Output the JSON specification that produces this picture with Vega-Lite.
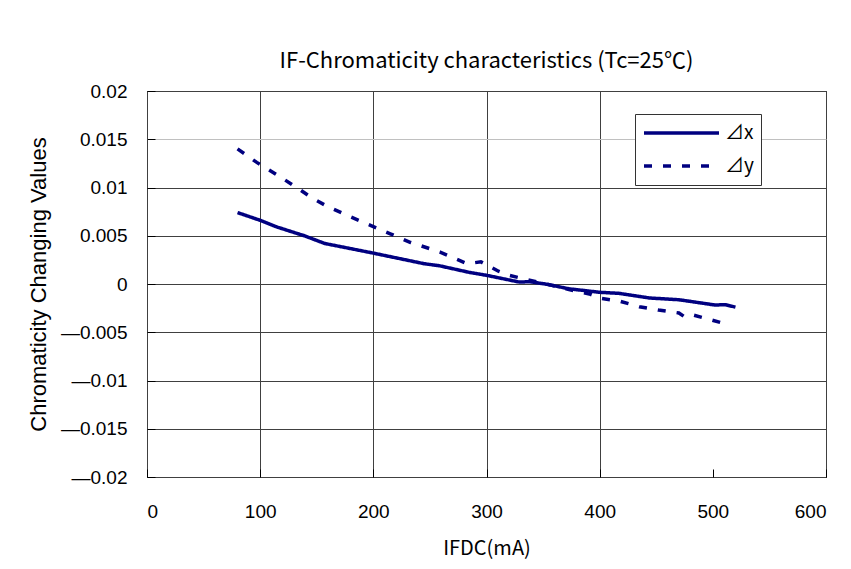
{
  "$schema": "https://vega.github.io/schema/vega-lite/v6.json",
  "width": 679,
  "height": 386,
  "autosize": "none",
  "padding": {"left": 147, "top": 91, "right": 25, "bottom": 92},
  "background": "white",
  "config": {
    "view": {"stroke": "black", "strokeWidth": 1},
    "axis": {
      "domain": false,
      "ticks": true,
      "tickColor": "black",
      "tickSize": -8,
      "gridColor": "#404040",
      "gridWidth": 1,
      "gridOpacity": 1,
      "labelColor": "black",
      "labelFont": "Liberation Sans",
      "labelFontSize": 19,
      "titleColor": "black",
      "titleFontWeight": "normal"
    }
  },
  "title": {
    "text": "IF-Chromaticity characteristics (Tc=25℃)",
    "font": "Noto Sans CJK JP",
    "fontSize": 22,
    "fontWeight": "normal",
    "color": "black",
    "anchor": "middle",
    "offset": -8,
    "baseline": "alphabetic"
  },
  "data": {
    "values": [
      {"I": 80, "v": 0.0074, "s": "⊿x"},
      {"I": 100, "v": 0.0066, "s": "⊿x"},
      {"I": 115, "v": 0.0059, "s": "⊿x"},
      {"I": 139, "v": 0.0050, "s": "⊿x"},
      {"I": 157, "v": 0.0042, "s": "⊿x"},
      {"I": 200, "v": 0.0032, "s": "⊿x"},
      {"I": 245, "v": 0.0021, "s": "⊿x"},
      {"I": 258, "v": 0.0019, "s": "⊿x"},
      {"I": 285, "v": 0.0012, "s": "⊿x"},
      {"I": 300, "v": 0.0009, "s": "⊿x"},
      {"I": 329, "v": 0.0002, "s": "⊿x"},
      {"I": 338, "v": 0.00024, "s": "⊿x"},
      {"I": 352, "v": 0.0, "s": "⊿x"},
      {"I": 373, "v": -0.0005, "s": "⊿x"},
      {"I": 400, "v": -0.00086, "s": "⊿x"},
      {"I": 417, "v": -0.00097, "s": "⊿x"},
      {"I": 444, "v": -0.00145, "s": "⊿x"},
      {"I": 470, "v": -0.00163, "s": "⊿x"},
      {"I": 502, "v": -0.00218, "s": "⊿x"},
      {"I": 511, "v": -0.00214, "s": "⊿x"},
      {"I": 520, "v": -0.0024, "s": "⊿x"},
      {"I": 80, "v": 0.0140, "s": "⊿y"},
      {"I": 97, "v": 0.0126, "s": "⊿y"},
      {"I": 115, "v": 0.0113, "s": "⊿y"},
      {"I": 131, "v": 0.0101, "s": "⊿y"},
      {"I": 146, "v": 0.0089, "s": "⊿y"},
      {"I": 160, "v": 0.0080, "s": "⊿y"},
      {"I": 179, "v": 0.0070, "s": "⊿y"},
      {"I": 197, "v": 0.0061, "s": "⊿y"},
      {"I": 215, "v": 0.0052, "s": "⊿y"},
      {"I": 233, "v": 0.0043, "s": "⊿y"},
      {"I": 241, "v": 0.0040, "s": "⊿y"},
      {"I": 259, "v": 0.0033, "s": "⊿y"},
      {"I": 283, "v": 0.0021, "s": "⊿y"},
      {"I": 295, "v": 0.0023, "s": "⊿y"},
      {"I": 311, "v": 0.0013, "s": "⊿y"},
      {"I": 320, "v": 0.0009, "s": "⊿y"},
      {"I": 338, "v": 0.0004, "s": "⊿y"},
      {"I": 353, "v": 0.0, "s": "⊿y"},
      {"I": 372, "v": -0.00055, "s": "⊿y"},
      {"I": 392, "v": -0.00107, "s": "⊿y"},
      {"I": 401, "v": -0.00148, "s": "⊿y"},
      {"I": 417, "v": -0.00176, "s": "⊿y"},
      {"I": 435, "v": -0.00235, "s": "⊿y"},
      {"I": 452, "v": -0.0027, "s": "⊿y"},
      {"I": 470, "v": -0.0030, "s": "⊿y"},
      {"I": 475, "v": -0.0034, "s": "⊿y"},
      {"I": 482, "v": -0.0032, "s": "⊿y"},
      {"I": 498, "v": -0.0037, "s": "⊿y"},
      {"I": 513, "v": -0.0042, "s": "⊿y"}
    ]
  },
  "mark": {"type": "line", "strokeWidth": 3.5, "color": "#000080"},
  "encoding": {
    "x": {
      "field": "I",
      "type": "quantitative",
      "scale": {"domain": [0, 600], "nice": false},
      "axis": {
        "values": [0, 100, 200, 300, 400, 500, 600],
        "title": "IFDC(mA)",
        "titleFont": "Noto Sans CJK JP",
        "titleFontSize": 20,
        "titlePadding": 17,
        "labelPadding": 33,
        "gridColor": {"condition": {"test": "datum.value === 500", "value": "transparent"}, "value": "#404040"}
      }
    },
    "y": {
      "field": "v",
      "type": "quantitative",
      "scale": {"domain": [-0.02, 0.02], "nice": false},
      "axis": {
        "values": [-0.02, -0.015, -0.01, -0.005, 0, 0.005, 0.01, 0.015, 0.02],
        "format": "~g",
        "labelExpr": "replace(datum.label, '−', '—')",
        "title": "Chromaticity Changing Values",
        "titleFont": "Liberation Sans",
        "titleFontSize": 22,
        "titlePadding": 10,
        "labelPadding": 28,
        "gridColor": {"condition": {"test": "datum.value === 0.015", "value": "#c0c0c0"}, "value": "#404040"}
      }
    },
    "strokeDash": {
      "field": "s",
      "type": "nominal",
      "scale": {"domain": ["⊿x", "⊿y"], "range": [[1, 0], [8, 11]]},
      "legend": {
        "title": null,
        "orient": "none",
        "legendX": 488,
        "legendY": 23,
        "symbolType": "stroke",
        "symbolSize": 5625,
        "symbolStrokeWidth": 3.5,
        "symbolStrokeColor": "#000080",
        "clipHeight": 24,
        "labelFont": "Noto Sans CJK JP",
        "labelFontSize": 19,
        "labelColor": "black",
        "labelOffset": 4,
        "fillColor": "white",
        "strokeColor": "#333333",
        "padding": 7,
        "rowPadding": 9
      }
    }
  }
}
